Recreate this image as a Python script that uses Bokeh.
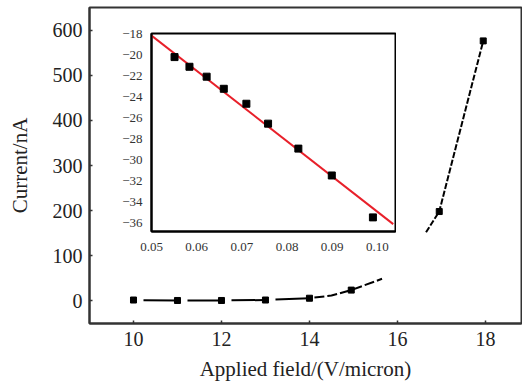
from bokeh.plotting import figure
from bokeh.models import Column, FixedTicker
from bokeh.embed import file_html
from bokeh.resources import INLINE

# Field-emission I-V curve (main plot)
flat_field = [10, 11, 12, 13, 14]
flat_current = [2, 1, 1, 2, 6]
rise_field = [14, 14.5, 14.95, 15.65]
rise_current = [6, 12, 24, 49]
steep_field = [16.65, 16.95, 17.95]
steep_current = [152, 198, 576]
marker_field = [10, 11, 12, 13, 14, 14.95, 16.95, 17.95]
marker_current = [2, 1, 1, 2, 6, 24, 198, 576]

main_xticks = [10, 12, 14, 16, 18]
main_yticks = [0, 100, 200, 300, 400, 500, 600]

# Fowler-Nordheim plot (inset)
fn_x = [0.0551, 0.0584, 0.0622, 0.0660, 0.0710, 0.0758, 0.0825, 0.0899, 0.0990]
fn_y = [-20.24, -21.16, -22.10, -23.25, -24.67, -26.56, -28.93, -31.48, -35.46]
fit_x = [0.0500, 0.1035]
fit_y = [-18.19, -36.10]

inset_xticks = [0.05, 0.06, 0.07, 0.08, 0.09, 0.10]
inset_xlabels = ["0.05", "0.06", "0.07", "0.08", "0.09", "0.10"]
inset_yticks = [-18, -20, -22, -24, -26, -28, -30, -32, -34, -36]

SERIF = "Liberation Serif"

p = figure(width=522, height=385, x_range=(9, 18.82), y_range=(-50, 650),
           output_backend="svg", toolbar_location=None,
           min_border_left=89, min_border_right=1, min_border_top=7,
           min_border_bottom=62)
p.grid.visible = False
p.outline_line_color = "#333333"
p.outline_line_width = 2
p.background_fill_color = "white"
p.border_fill_color = "white"

p.xaxis.axis_label = "Applied field/(V/micron)"
p.yaxis.axis_label = "Current/nA"
p.xaxis.ticker = FixedTicker(ticks=main_xticks)
p.yaxis.ticker = FixedTicker(ticks=main_yticks)
for ax in (p.xaxis, p.yaxis):
    ax.axis_line_color = "#333333"
    ax.axis_line_width = 2
    ax.major_tick_in = 3
    ax.major_tick_out = 0
    ax.major_tick_line_color = "#333333"
    ax.major_tick_line_width = 1.5
    ax.minor_tick_line_color = None
    ax.major_label_text_font = SERIF
    ax.major_label_text_font_size = "20px"
    ax.major_label_text_color = "#222222"
    ax.axis_label_text_font = SERIF
    ax.axis_label_text_font_size = "21px"
    ax.axis_label_text_font_style = "normal"
    ax.axis_label_text_color = "#222222"
p.xaxis.major_label_standoff = 8
p.xaxis.axis_label_standoff = 8
p.yaxis.major_label_standoff = 7
p.yaxis.axis_label_standoff = 18

p.line(flat_field, flat_current, line_color="black", line_width=2,
       line_dash="34 10", line_dash_offset=34)
p.line(rise_field, rise_current, line_color="black", line_width=2,
       line_dash="10 3", line_dash_offset=8)
p.line(steep_field, steep_current, line_color="black", line_width=2,
       line_dash="6 2")
p.scatter(marker_field, marker_current, marker="square", size=6,
          fill_color="black", line_color="black")

# The inset shares the column's left/right border alignment, so its
# borders match the main figure and the frame is 244 px wide.
inset = figure(width=334, height=236, x_range=(0.05, 0.104),
               y_range=(-36.8, -18), output_backend="svg",
               toolbar_location=None, min_border_left=89, min_border_right=1,
               min_border_top=12, min_border_bottom=26)
inset.grid.visible = False
inset.outline_line_color = "black"
inset.outline_line_width = 2
inset.border_fill_alpha = 0
inset.background_fill_color = "white"
inset.xaxis.ticker = FixedTicker(ticks=inset_xticks)
inset.xaxis.major_label_overrides = dict(zip(inset_xticks, inset_xlabels))
inset.yaxis.ticker = FixedTicker(ticks=inset_yticks)
for ax in (inset.xaxis, inset.yaxis):
    ax.axis_line_color = "black"
    ax.axis_line_width = 2
    ax.major_tick_line_color = None
    ax.minor_tick_line_color = None
    ax.major_label_text_font = SERIF
    ax.major_label_text_font_size = "13px"
    ax.major_label_text_color = "#333333"
inset.xaxis.major_label_standoff = 5
inset.yaxis.major_label_standoff = 3

inset.line(fit_x, fit_y, line_color="#e8202a", line_width=2)
inset.scatter(fn_x, fn_y, marker="square", size=7, fill_color="black",
              line_color="black")

inset.styles = {"position": "absolute", "left": "62px", "top": "21px"}
layout = Column(p, inset)
layout.styles = {"position": "relative"}

open("out.html", "w").write(file_html(layout, INLINE))
